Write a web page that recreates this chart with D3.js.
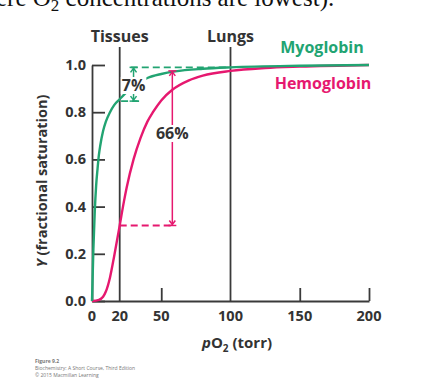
<!DOCTYPE html>
<html><head><meta charset="utf-8">
<script src="https://cdn.jsdelivr.net/npm/d3@7"></script>
<style>
html,body{margin:0;padding:0;background:#fff;overflow:hidden}
text{font-family:"Open Sans","DejaVu Sans",sans-serif}
</style></head>
<body>
<svg id="c" width="434" height="392"></svg>
<script>
// ---- data ----
const pO2Myo = [0,1,2,3,4,5,6,8,10,13,16,20,25,30,40,50,60,80,100,150,200];
const yMyo   = [0,0.22,0.38,0.49,0.56,0.62,0.66,0.72,0.76,0.80,0.83,0.855,0.885,0.91,0.945,0.962,0.973,0.984,0.99,0.997,1.0];
const pO2Hb  = [0,5,8,10,13,16,20,23,25,30,35,40,44,50,58,70,80,100,125,150,200];
const yHb    = [0,0.005,0.018,0.04,0.10,0.19,0.32,0.42,0.48,0.60,0.69,0.76,0.80,0.85,0.895,0.935,0.955,0.975,0.987,0.993,1.0];
const xTicks = [0,20,50,100,150,200];
const yTicks = [0,0.2,0.4,0.6,0.8,1.0];
const markers = [{p:20,label:"Tissues"},{p:100,label:"Lungs"}];
// annotation values (pO2, Y)
const myoArrow = {p:30, y0:0.847, y1:0.99, label:"7%"};
const myoDashTop = [28,100,0.99];
const myoDashLow = [21,36,0.847];
const hbArrow = {p:58, y0:0.32, y1:0.975, label:"66%"};
const hbDashLow = [20,58,0.32];

const green = "#22a472", pink = "#e6186f", axisCol = "#3a3a3a", txt = "#333";
const svg = d3.select("#c");
const x = d3.scaleLinear().domain([0,200]).range([92,369]);
const y = d3.scaleLinear().domain([0,1]).range([301,65]);

// top cut-off sentence (cropped in the reference)
svg.append("text").attr("x",-4).attr("y",6)
  .style("font-family","'Liberation Serif','Times New Roman',serif").style("font-size","25px").attr("fill","#111")
  .html('ere O<tspan dy="5" font-size="17">2</tspan><tspan dy="-5"> concentrations are lowest).</tspan>');

// axes
const xAxis = d3.axisBottom(x).tickValues([50,150,200]).tickSizeInner(-13).tickSizeOuter(0).tickFormat("");
const gx = svg.append("g").attr("transform","translate(0,301)").call(xAxis);
gx.select(".domain").attr("stroke",axisCol).attr("stroke-width",1.8);
gx.selectAll(".tick line").attr("stroke",axisCol).attr("stroke-width",1.8);
const yAxis = d3.axisLeft(y).tickValues(yTicks).tickSizeInner(-13).tickSizeOuter(0).tickFormat("");
const gy = svg.append("g").attr("transform","translate(92,0)").call(yAxis);
gy.select(".domain").attr("stroke",axisCol).attr("stroke-width",1.8);
gy.selectAll(".tick line").attr("stroke",axisCol).attr("stroke-width",1.8);

// tick labels
svg.selectAll(".xl").data(xTicks).enter().append("text")
  .attr("x",d=>x(d)).attr("y",321).attr("text-anchor","middle")
  .attr("font-size",14.5).attr("font-weight",700).attr("fill",txt).text(d=>d);
svg.selectAll(".yl").data(yTicks).enter().append("text")
  .attr("x",86).attr("y",d=>y(d)+5).attr("text-anchor","end")
  .attr("font-size",14.5).attr("font-weight",700).attr("fill",txt).text(d=>d.toFixed(1));

// marker lines
markers.forEach(m=>{
  svg.append("line").attr("x1",x(m.p)).attr("x2",x(m.p)).attr("y1",47).attr("y2",301)
    .attr("stroke",axisCol).attr("stroke-width",1.8);
  svg.append("text").attr("x",x(m.p)).attr("y",42).attr("text-anchor","middle")
    .attr("font-size",16).attr("font-weight",700).attr("fill",txt).text(m.label);
});

// curves
const line = d3.line().x(d=>x(d[0])).y(d=>y(d[1])).curve(d3.curveMonotoneX);
svg.append("path").attr("d",line(pO2Hb.map((p,i)=>[p,yHb[i]])))
  .attr("fill","none").attr("stroke",pink).attr("stroke-width",2.4);
svg.append("path").attr("d",line(pO2Myo.map((p,i)=>[p,yMyo[i]])))
  .attr("fill","none").attr("stroke",green).attr("stroke-width",2.4);

// dashed guides
function dash(seg,col){
  svg.append("line").attr("x1",x(seg[0])).attr("x2",x(seg[1])).attr("y1",y(seg[2])).attr("y2",y(seg[2]))
    .attr("stroke",col).attr("stroke-width",1.8).attr("stroke-dasharray","7,4");
}
dash(myoDashTop,green); dash(myoDashLow,green); dash(hbDashLow,pink);

// arrows
function arrow(a,col,fs,labY){
  const xa=x(a.p), ya=y(a.y1), yb=y(a.y0);
  svg.append("line").attr("x1",xa).attr("x2",xa).attr("y1",ya).attr("y2",yb).attr("stroke",col).attr("stroke-width",1.5);
  [[ya,1],[yb,-1]].forEach(([yy,s])=>{
    svg.append("line").attr("x1",xa-4).attr("x2",xa+4).attr("y1",yy).attr("y2",yy).attr("stroke",col).attr("stroke-width",1.5);
    svg.append("path").attr("d",`M${xa-3},${yy+s*5}L${xa},${yy+s*1}L${xa+3},${yy+s*5}`)
      .attr("fill","none").attr("stroke",col).attr("stroke-width",1.5);
  });
  const t = svg.append("text").attr("x",xa).attr("y",labY).attr("text-anchor","middle")
    .attr("font-size",fs).attr("font-weight",700).attr("fill",txt).text(a.label);
  const bb=t.node().getBBox();
  svg.insert("rect",()=>t.node()).attr("x",bb.x-1).attr("y",bb.y+3).attr("width",bb.width+2).attr("height",bb.height-5).attr("fill","#fff");
}
arrow(myoArrow,green,16,91);
arrow(hbArrow,pink,16,139);

// legend labels
svg.append("text").attr("x",322).attr("y",53).attr("text-anchor","middle")
  .attr("font-size",16).attr("font-weight",700).attr("fill",green).text("Myoglobin");
svg.append("text").attr("x",323).attr("y",89).attr("text-anchor","middle")
  .attr("font-size",16).attr("font-weight",700).attr("fill",pink).text("Hemoglobin");

// axis titles
svg.append("text").attr("transform","translate(47,181) rotate(-90)").attr("text-anchor","middle")
  .attr("font-size",14.5).attr("font-weight",700).attr("fill",txt)
  .html('<tspan font-style="italic">Y</tspan> (fractional saturation)');
svg.append("text").attr("x",237).attr("y",348).attr("text-anchor","middle")
  .attr("font-size",15).attr("font-weight",700).attr("fill",txt)
  .html('<tspan font-style="italic">p</tspan>O<tspan dy="4" font-size="10">2</tspan><tspan dy="-4"> (torr)</tspan>');

// caption
const cap = ["Figure 9.2","Biochemistry: A Short Course, Third Edition","© 2015 Macmillan Learning"];
svg.selectAll(".cap").data(cap).enter().append("text")
  .attr("x",35).attr("y",(d,i)=>363+i*7).attr("font-size",5).attr("fill","#777")
  .attr("font-weight",(d,i)=>i===0?700:400).text(d=>d);
</script>
</body></html>
